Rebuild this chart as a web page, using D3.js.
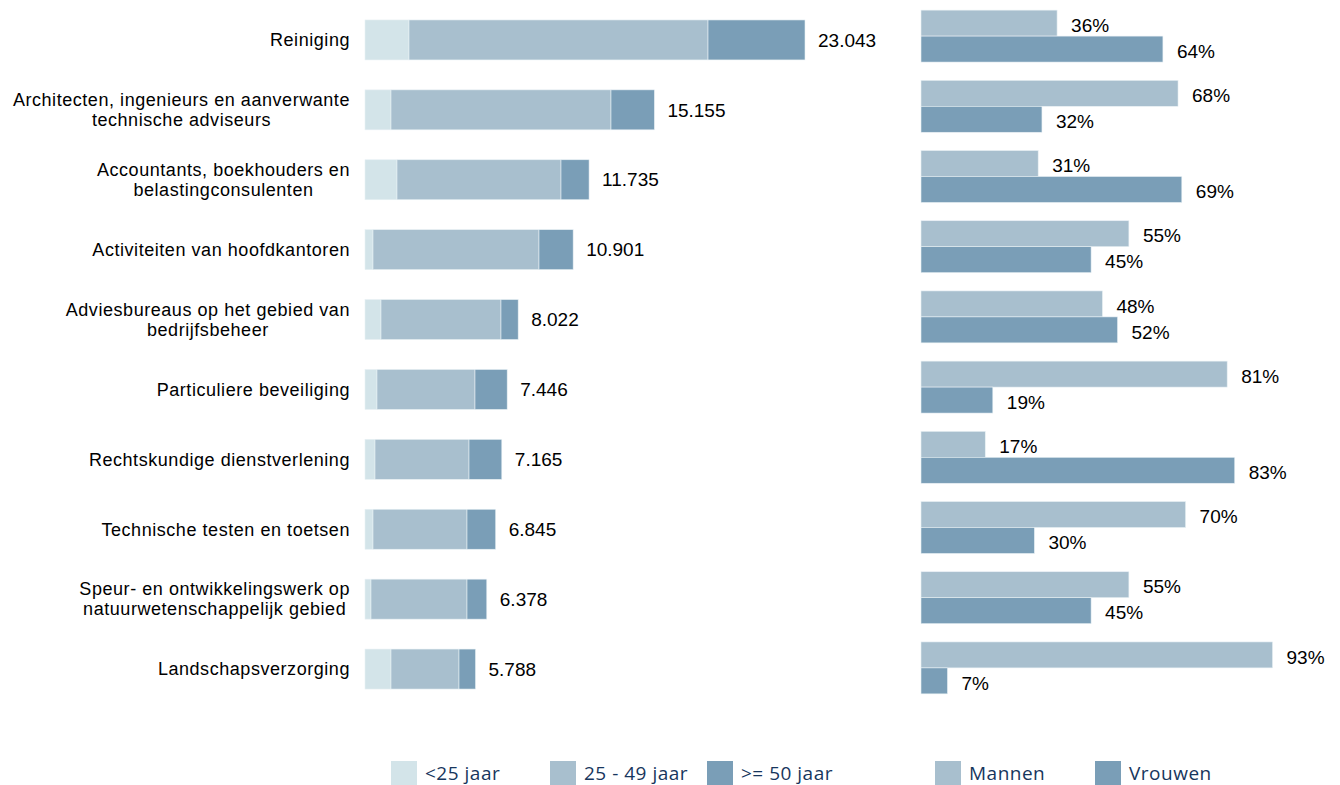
<!DOCTYPE html>
<html>
<head>
<meta charset="utf-8">
<script src="https://cdn.jsdelivr.net/npm/d3@7"></script>
<style>
  body { margin: 0; background: #fff; }
  text { font-family: "Liberation Sans", Arial, sans-serif; fill: #000; }
</style>
</head>
<body>
<div id="chart-area"></div>
<script>
var width = 1340;
var height = 785;

// Data
var categories = [
  ["Reiniging"],
  ["Architecten, ingenieurs en aanverwante", "technische adviseurs"],
  ["Accountants, boekhouders en", "belastingconsulenten"],
  ["Activiteiten van hoofdkantoren"],
  ["Adviesbureaus op het gebied van", "bedrijfsbeheer"],
  ["Particuliere beveiliging"],
  ["Rechtskundige dienstverlening"],
  ["Technische testen en toetsen"],
  ["Speur- en ontwikkelingswerk op", "natuurwetenschappelijk gebied"],
  ["Landschapsverzorging"]
];
var under25 = [2304, 1362, 1676, 419, 838, 628, 524, 419, 314, 1362];
var age25to49 = [15660, 11521, 8589, 8693, 6284, 5132, 4923, 4923, 5028, 3561];
var over50 = [5079, 2272, 1470, 1789, 900, 1686, 1718, 1503, 1036, 865];
var totals = [23043, 15155, 11735, 10901, 8022, 7446, 7165, 6845, 6378, 5788];
var totalLabels = ["23.043", "15.155", "11.735", "10.901", "8.022", "7.446", "7.165", "6.845", "6.378", "5.788"];
var men = [36, 68, 31, 55, 48, 81, 17, 70, 55, 93];
var women = [64, 32, 69, 45, 52, 19, 83, 30, 45, 7];

var ageKeys = ["<25 jaar", "25 - 49 jaar", ">= 50 jaar"];
var ageColors = ["#d3e4e9", "#a8bfce", "#7a9eb7"];
var sexKeys = ["Mannen", "Vrouwen"];
var sexColors = ["#a8bfce", "#7a9eb7"];

var idx = d3.range(categories.length);

const svg = d3.select("#chart-area")
  .append("svg")
    .attr("width", width)
    .attr("height", height);

//Scales
var yLeft = d3.scaleBand()
  .domain(idx)
  .range([5, 704])
  .paddingInner(0.428)
  .paddingOuter(0.214);

var xLeft = d3.scaleLinear()
  .domain([0, 23043])
  .range([365, 805]);

var yRight = d3.scaleBand()
  .domain(idx)
  .range([1, 703])
  .paddingInner(0.26)
  .paddingOuter(0.13);

var ySub = d3.scaleBand()
  .domain(sexKeys)
  .range([0, yRight.bandwidth()]);

var xRight = d3.scaleLinear()
  .domain([0, 100])
  .range([921, 1299]);

//Stacked bars
var rows = idx.map(i => ({i: i, a: under25[i], b: age25to49[i], c: over50[i]}));
var stack = d3.stack().keys(["a", "b", "c"]);
var series = stack(rows);

svg.append("g").selectAll("g")
  .data(series)
  .enter().append("g")
    .attr("fill", (d, k) => ageColors[k])
  .selectAll("rect")
  .data(d => d)
  .enter().append("rect")
    .attr("x", d => xLeft(d[0]))
    .attr("y", d => yLeft(d.data.i))
    .attr("width", d => xLeft(d[1]) - xLeft(d[0]))
    .attr("height", yLeft.bandwidth())
    .attr("stroke", "#e8f0f4")
    .attr("stroke-width", 0.6);

svg.append("g").selectAll("text")
  .data(idx)
  .enter().append("text")
    .attr("x", i => xLeft(totals[i]) + 13)
    .attr("y", i => yLeft(i) + yLeft.bandwidth() / 2)
    .attr("dy", "0.35em")
    .style("font-size", "19px")
    .text(i => totalLabels[i]);

//Category labels
var labelG = svg.append("g");
idx.forEach(i => {
  var lines = categories[i];
  var cy = yLeft(i) + yLeft.bandwidth() / 2;
  var t = labelG.append("text")
    .style("font-size", "18px")
    .style("letter-spacing", "0.55px")
    .attr("text-anchor", "middle");
  lines.forEach((line, k) => {
    t.append("tspan")
      .attr("y", cy + (k - (lines.length - 1) / 2) * 20)
      .attr("dy", "0.35em")
      .text(line);
  });
  var maxW = 0;
  t.selectAll("tspan").each(function() {
    maxW = Math.max(maxW, this.getComputedTextLength());
  });
  t.selectAll("tspan").attr("x", 350 - maxW / 2);
});

//Men / women bars
var pairs = [];
idx.forEach(i => {
  pairs.push({i: i, key: "Mannen", v: men[i], c: sexColors[0]});
  pairs.push({i: i, key: "Vrouwen", v: women[i], c: sexColors[1]});
});

svg.append("g").selectAll("rect")
  .data(pairs)
  .enter().append("rect")
    .attr("x", xRight(0))
    .attr("y", d => yRight(d.i) + ySub(d.key))
    .attr("width", d => xRight(d.v) - xRight(0))
    .attr("height", ySub.bandwidth())
    .attr("fill", d => d.c)
    .attr("stroke", "#e8f0f4")
    .attr("stroke-width", 0.6);

svg.append("g").selectAll("text")
  .data(pairs)
  .enter().append("text")
    .attr("x", d => xRight(d.v) + 14)
    .attr("y", d => yRight(d.i) + ySub(d.key) + ySub.bandwidth() / 2 + 2)
    .attr("dy", "0.35em")
    .style("font-size", "19px")
    .text(d => d.v + "%");

//Legend
var legendItems = [
  {label: ageKeys[0], color: ageColors[0], x: 391},
  {label: ageKeys[1], color: ageColors[1], x: 550},
  {label: ageKeys[2], color: ageColors[2], x: 707},
  {label: sexKeys[0], color: sexColors[0], x: 935},
  {label: sexKeys[1], color: sexColors[1], x: 1095}
];

var legend = svg.append("g").attr("class", "legend");
legendItems.forEach(d => {
  legend.append("rect")
    .attr("x", d.x)
    .attr("y", 761)
    .attr("width", 26)
    .attr("height", 24)
    .attr("fill", d.color);
  legend.append("text")
    .attr("x", d.x + 34)
    .attr("y", 780)
    .style("font-family", "'Open Sans', sans-serif")
    .style("font-size", "19px")
    .style("letter-spacing", "0.5px")
    .style("fill", "#17365d")
    .text(d.label);
});
</script>
</body>
</html>
